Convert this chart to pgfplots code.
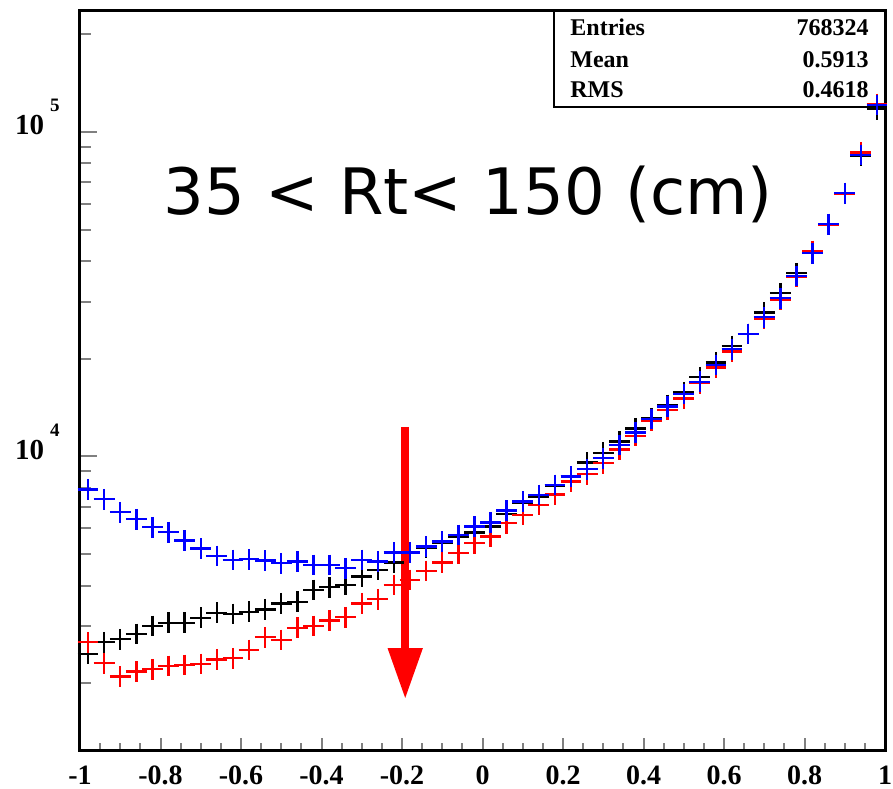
\documentclass[border=0pt]{standalone}
\usepackage{fontspec}
\setmainfont{Liberation Serif}
\newfontfamily\dejavu{DejaVu Sans}
\usepackage{pgfplots}
\pgfplotsset{compat=1.18}
\usepackage{pgfplotstable}
\usetikzlibrary{arrows.meta}

\pgfplotstableread{
x      black   red     blue
-0.98  2463    2676    7923
-0.94  2676    2305    7382
-0.90  2734    2097    6730
-0.86  2838    2172    6404
-0.82  3004    2209    6050
-0.78  3074    2262    5840
-0.74  3074    2278    5502
-0.70  3185    2294    5199
-0.66  3300    2371    4936
-0.62  3270    2388    4797
-0.58  3324    2533    4822
-0.54  3381    2772    4774
-0.50  3528    2719    4687
-0.46  3568    2967    4740
-0.42  3879    3004    4630
-0.38  3954    3119    4630
-0.34  4018    3195    4523
-0.30  4262    3528    4797
-0.26  4469    3630    4740
-0.22  4707    4018    5052
-0.18  5052    4163    5052
-0.14  5224    4437    5272
-0.10  5425    4707    5463
-0.06  5661    5031    5730
-0.02  5824    5401    6077
0.02   6077    5661    6252
0.06   6636    6225    6808
0.10   7175    6602    7256
0.14   7486    7088    7610
0.18   8149    7646    8168
0.22   8666    8364    8666
0.26   9570    8814    9133
0.30   10270   9528    9874
0.34   11110   10520   10850
0.38   12210   11570   11840
0.42   13120   12860   13050
0.46   14410   13910   14240
0.50   15770   15110   15580
0.54   17540   16810   17000
0.58   19510   18830   19140
0.62   21900   21040   21400
0.66   23850   23850   23850
0.70   27740   26600   26850
0.74   31840   30500   30730
0.78   36700   35800   35990
0.82   42770   42950   42290
0.86   51950   51700   51950
0.90   64740   64500   64740
0.94   84330   86350   84950
0.98   117500  121990  121100
}\data

\begin{document}
\begin{tikzpicture}
\begin{semilogyaxis}[
  scale only axis, width=402.5pt, height=370pt,
  xmin=-1, xmax=1, ymin=1237, ymax=236000,
  axis line style={line width=1.5pt},
  tick align=inside, tick pos=left,
  xtick={-1,-0.8,-0.6,-0.4,-0.2,0,0.2,0.4,0.6,0.8,1},
  xticklabels={-1,-0.8,-0.6,-0.4,-0.2,0,0.2,0.4,0.6,0.8,1},
  minor x tick num=3,
  ytick={10000,100000},
  yticklabels={{\textbf{10}\hspace{3pt}\raisebox{11.5pt}{\fontsize{9.5}{10}\selectfont\textbf{4}}},
               {\textbf{10}\hspace{3pt}\raisebox{11.5pt}{\fontsize{9.5}{10}\selectfont\textbf{5}}}},
  minor ytick={2000,3000,4000,5000,6000,7000,8000,9000,20000,30000,40000,50000,60000,70000,80000,90000,200000},
  xtick style={line width=1pt, /pgfplots/major tick length=6.5pt, /pgfplots/minor tick length=3.8pt},
  ytick style={line width=1pt, /pgfplots/major tick length=8.5pt, /pgfplots/minor tick length=5.3pt},
  xticklabel style={font=\bfseries\fontsize{14}{14}\selectfont, anchor=base, inner sep=0pt, yshift=-16.8pt},
  yticklabel style={font=\bfseries\fontsize{14.5}{14.5}\selectfont, anchor=base east, inner sep=0pt, xshift=-10pt, yshift=-1.5pt},
  clip=false,
]
\coordinate (ll) at (rel axis cs:0,0);
\coordinate (ur) at (rel axis cs:1,1);
\draw[line width=1pt, fill=white] (rel axis cs:0.5888,0.8703) rectangle (rel axis cs:1,1);
\node[anchor=base west, inner sep=0pt, font=\bfseries\fontsize{12}{12}\selectfont] at (rel axis cs:0.6087,0.9662) {Entries};
\node[anchor=base east, inner sep=0pt, font=\bfseries\fontsize{12}{12}\selectfont] at (rel axis cs:0.9801,0.9662) {768324};
\node[anchor=base west, inner sep=0pt, font=\bfseries\fontsize{12}{12}\selectfont] at (rel axis cs:0.6087,0.9234) {Mean};
\node[anchor=base east, inner sep=0pt, font=\bfseries\fontsize{12}{12}\selectfont] at (rel axis cs:0.9801,0.9234) {0.5913};
\node[anchor=base west, inner sep=0pt, font=\bfseries\fontsize{12}{12}\selectfont] at (rel axis cs:0.6087,0.8824) {RMS};
\node[anchor=base east, inner sep=0pt, font=\bfseries\fontsize{12}{12}\selectfont] at (rel axis cs:0.9801,0.8824) {0.4618};
\node[anchor=base west, inner sep=0pt, font=\dejavu\fontsize{32}{32}\selectfont] at (rel axis cs:0.1031,0.7243) {35 < Rt< 150 (cm)};
\addplot[only marks, mark=+, mark size=5.2pt, black, mark options={line width=1.2pt}] table[x=x,y=black]{\data};
\addplot[only marks, mark=+, mark size=5.2pt, red, mark options={line width=1.2pt}] table[x=x,y=red]{\data};
\addplot[only marks, mark=+, mark size=5.2pt, blue, mark options={line width=1.2pt}] table[x=x,y=blue]{\data};
\draw[red, line width=4pt, -{Triangle[width=16.5pt,length=25.5pt]}] (axis cs:-0.192,12330) -- (axis cs:-0.192,1789);
\end{semilogyaxis}
\pgfresetboundingbox
\path[use as bounding box] ([shift={(-40pt,-18.5pt)}]ll) rectangle ([shift={(4pt,5.5pt)}]ur);
\end{tikzpicture}
\end{document}
